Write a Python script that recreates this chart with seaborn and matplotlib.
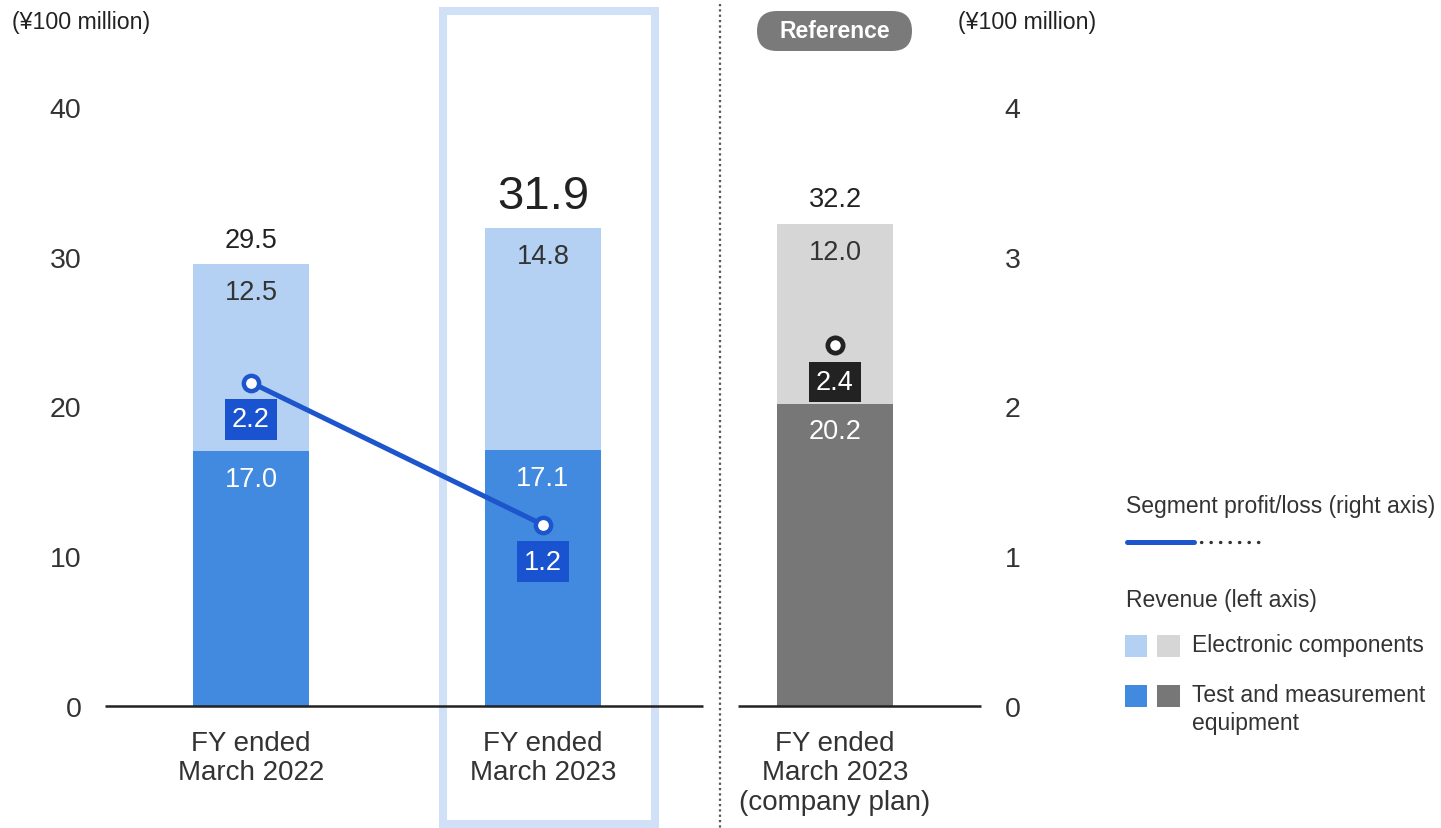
import matplotlib
matplotlib.use("Agg")
import matplotlib.pyplot as plt
import seaborn as sns
import pandas as pd
from matplotlib.patches import Rectangle, FancyBboxPatch
from matplotlib.lines import Line2D

# ---------------- data ----------------
categories = ["FY ended\nMarch 2022", "FY ended\nMarch 2023", "FY ended\nMarch 2023\n(company plan)"]
test_equipment = [17.0, 17.1, 20.2]
electronic_components = [12.5, 14.8, 12.0]
totals = [29.5, 31.9, 32.2]
segment_profit = [2.16, 1.21, 2.41]
left_ticks = [0, 10, 20, 30, 40]
right_ticks = [0, 1, 2, 3, 4]

# ---------------- style ----------------
sns.set_theme(style="white")
plt.rcParams['font.family'] = ['Liberation Sans', 'DejaVu Sans']
TEXT = '#333333'
LB, B = '#b4d0f2', '#428ae0'
LG, DG = '#d6d6d6', '#777777'
LINE = '#1d55cc'
BOXB = '#1a53cf'
BOXK = '#222222'
HIGHLIGHT = '#d0e0f6'

W, H = 1441, 829
fig = plt.figure(figsize=(W / 100, H / 100), dpi=100)
ax = fig.add_axes([105 / W, 122 / H, 876 / W, 599 / H])
ax.patch.set_visible(False)

df = pd.DataFrame({'cat': categories, 'te': test_equipment,
                   'ec': electronic_components, 'total': totals})

sns.barplot(data=df, x='cat', y='total', hue='cat', palette=[LB, LB, LG],
            width=0.4, legend=False, ax=ax, saturation=1, linewidth=0)
sns.barplot(data=df, x='cat', y='te', hue='cat', palette=[B, B, DG],
            width=0.4, legend=False, ax=ax, saturation=1, linewidth=0)

ax.set_xlim(-0.5, 2.5)
ax.set_ylim(0, 40)
ax.set_yticks(left_ticks)
ax.set_xticks(range(len(categories)))
ax.set_xticklabels(categories, fontsize=20, color=TEXT, linespacing=1.19)
ax.tick_params(axis='x', length=0, pad=17)
ax.tick_params(axis='y', length=0, pad=17, labelsize=20.5, labelcolor=TEXT)
ax.set_xlabel('')
ax.set_ylabel('')
for s in ax.spines.values():
    s.set_visible(False)

# baseline (split around separator)
ax.hlines(0, -0.5, 1.548, color='#222222', lw=1.8, zorder=5, clip_on=False)
ax.hlines(0, 1.668, 2.5, color='#222222', lw=1.8, zorder=5, clip_on=False)

# segment labels
for i in range(len(categories)):
    ax.annotate(f"{test_equipment[i]:.1f}", xy=(i, test_equipment[i]), xytext=(0, -20),
                textcoords='offset points', ha='center', va='center',
                fontsize=19.5, color='white', zorder=6)
    ax.annotate(f"{electronic_components[i]:.1f}", xy=(i, totals[i]), xytext=(0, -20),
                textcoords='offset points', ha='center', va='center',
                fontsize=19.5, color=TEXT, zorder=6)
    if i == 1:
        ax.annotate(f"{totals[i]:.1f}", xy=(i, totals[i]), xytext=(0, 23),
                    textcoords='offset points', ha='center', va='center',
                    fontsize=34, color='#222222')
    else:
        ax.annotate(f"{totals[i]:.1f}", xy=(i, totals[i]), xytext=(0, 17.5),
                    textcoords='offset points', ha='center', va='center',
                    fontsize=19.5, color='#222222')

# highlight frame around FY2023
ax.add_patch(Rectangle((443 / W, 1 - 825 / H), (655 - 443) / W, (825 - 12) / H,
                       transform=fig.transFigure, fill=False, ec=HIGHLIGHT,
                       lw=5.8, clip_on=False, zorder=0))

# ---------------- right axis: segment profit ----------------
ax2 = ax.twinx()
ax2.set_ylim(0, 4)
sns.lineplot(x=[0, 1], y=segment_profit[:2], ax=ax2, color=LINE, linewidth=3.6,
             marker='o', markersize=11, markerfacecolor='white',
             markeredgecolor=LINE, markeredgewidth=3.2, zorder=5)
ax2.plot([2], [segment_profit[2]], marker='o', ms=11, mfc='white', mec=BOXK,
         mew=3.4, ls='none', zorder=5)
for i, v in enumerate(segment_profit):
    ax2.annotate(f"{v:.1f}", xy=(i, v), xytext=(0, -26.5), textcoords='offset points',
                 ha='center', va='center', color='white', fontsize=19.5,
                 bbox=dict(boxstyle='square,pad=0.27', fc=BOXB if i < 2 else BOXK, ec='none'))
ax2.set_yticks(right_ticks)
ax2.tick_params(axis='y', length=0, pad=17, labelsize=20.5, labelcolor=TEXT)
ax2.set_ylabel('')
for s in ax2.spines.values():
    s.set_visible(False)
ax2.set_xlim(-0.5, 2.5)

# ---------------- decorations ----------------
fig.add_artist(Line2D([720 / W, 720 / W], [1 - 5 / H, 0], transform=fig.transFigure,
                      color='#555555', lw=1.6, linestyle=(0, (1, 1.4))))

fig.text(12 / W, 1 - 23 / H, "(¥100 million)", ha='left', va='center', fontsize=16.7, color='#222222')
fig.text(958 / W, 1 - 23 / H, "(¥100 million)", ha='left', va='center', fontsize=16.7, color='#222222')

fig.add_artist(FancyBboxPatch((7.57, (H - 52) / 100), 1.55, 0.40,
                              boxstyle='round,pad=0,rounding_size=0.2',
                              transform=fig.dpi_scale_trans, fc='#7a7a7a', ec='none'))
fig.text(834.5 / W, 1 - 31 / H, "Reference", ha='center', va='center', fontsize=16.5,
         fontweight='bold', color='white')

# legend
fig.text(1126 / W, 1 - 507 / H, "Segment profit/loss (right axis)", ha='left', va='center',
         fontsize=16.5, color=TEXT)
fig.add_artist(Line2D([1127 / W, 1194 / W], [1 - 543 / H] * 2, transform=fig.transFigure,
                      color=LINE, lw=3.6, solid_capstyle='round'))
fig.add_artist(Line2D([1201 / W, 1266 / W], [1 - 543 / H] * 2, transform=fig.transFigure,
                      color='#333333', lw=2.4, linestyle=(0, (0.1, 2.75)), dash_capstyle='round'))
fig.text(1126 / W, 1 - 600 / H, "Revenue (left axis)", ha='left', va='center',
         fontsize=16.5, color=TEXT)
for (y0, c1, c2) in [(636, LB, LG), (686, B, DG)]:
    fig.add_artist(Rectangle((1125 / W, 1 - (y0 + 22) / H), 22 / W, 22 / H,
                             transform=fig.transFigure, fc=c1, ec='none'))
    fig.add_artist(Rectangle((1157 / W, 1 - (y0 + 22) / H), 23 / W, 22 / H,
                             transform=fig.transFigure, fc=c2, ec='none'))
fig.text(1192 / W, 1 - 646 / H, "Electronic components", ha='left', va='center',
         fontsize=16.5, color=TEXT)
fig.text(1192 / W, 1 - 684 / H, "Test and measurement\nequipment", ha='left', va='top',
         fontsize=16.5, color=TEXT, linespacing=1.3)

fig.savefig("out.png", dpi=100)
